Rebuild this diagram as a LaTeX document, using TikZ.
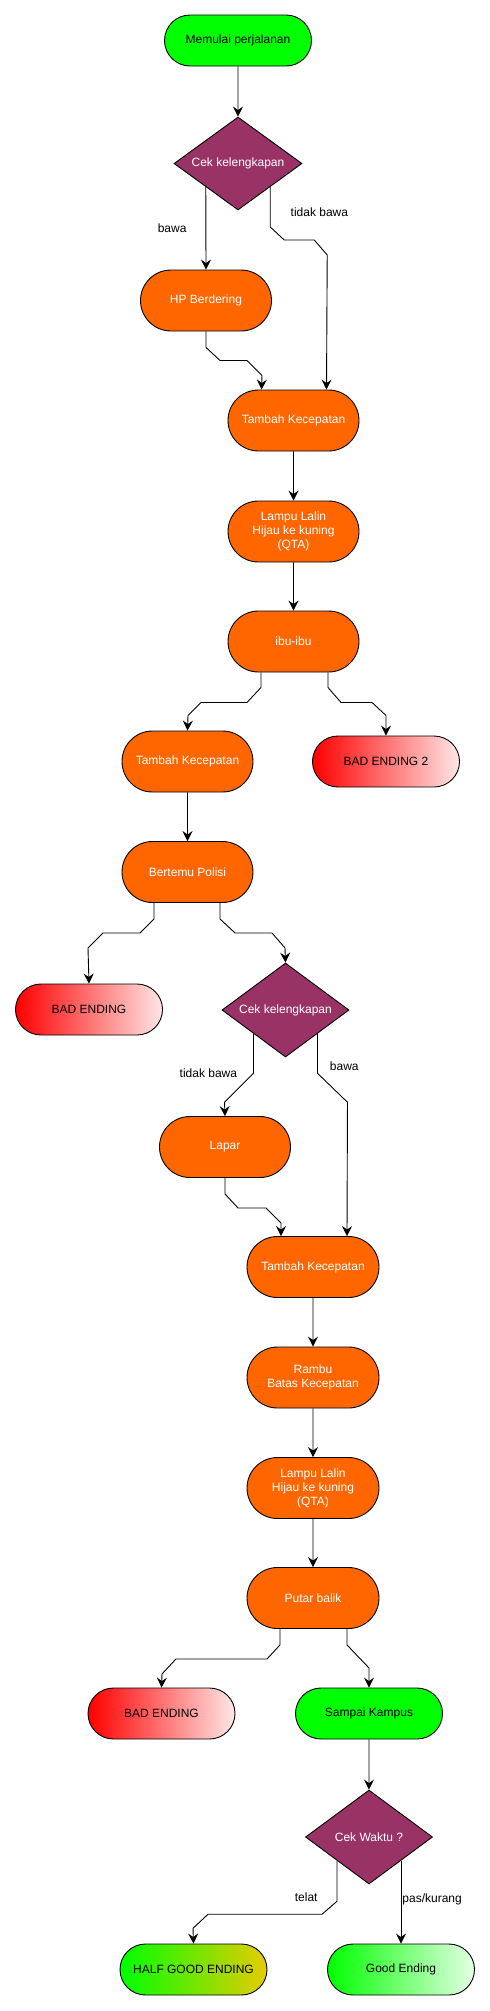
\documentclass[tikz,border=0pt]{standalone}
\usepackage{fontspec}
\setmainfont{Liberation Sans}
\usepackage{tikz}
\usetikzlibrary{shapes.geometric,shapes.misc,arrows.meta}
\definecolor{procorange}{HTML}{FF6600}
\definecolor{decpurple}{HTML}{993366}
\definecolor{startgreen}{HTML}{00FF00}
\definecolor{badpink}{HTML}{FFE6E6}
\definecolor{goodpale}{HTML}{E6FFE6}
\definecolor{halfgold}{HTML}{E6CC00}
\tikzset{
  fnode/.style = {align=center, inner sep=0pt, text centered, font=\fontsize{12}{14}\selectfont, draw=black, line width=0.9pt},
  tterm/.style = {fnode, rounded rectangle, minimum width=147pt, minimum height=51pt},
  tstart/.style = {tterm, fill=startgreen},
  tproc/.style = {fnode, rounded rectangle, fill=procorange, text=white, minimum width=131pt, minimum height=61pt},
  tdecide/.style = {fnode, diamond, aspect=1.4, fill=decpurple, text=white, minimum width=128pt, minimum height=93pt},
  tbad/.style = {tterm, left color=red, right color=badpink},
  thalf/.style = {tterm, left color=startgreen, right color=halfgold},
  tgood/.style = {tterm, left color=startgreen, right color=goodpale},
  tlabel/.style = {inner sep=0pt, font=\fontsize{12}{14}\selectfont},
  flow/.style = {line width=0.9pt, -{Stealth[length=10pt,width=10pt,inset=3.5pt]}},
}
\begin{document}
\begin{tikzpicture}[x=1pt, y=-1pt]
\useasboundingbox (0,0) rectangle (490,2011);
% first part
\node [tstart] (start) at (238,40.5) {Memulai perjalanan};
\node [tdecide] (cek1) at (238,163.5) {Cek kelengkapan};
\node [tproc] (hp) at (206,300.5) {HP Berdering};
\node [tproc] (tk1) at (293.5,420.5) {Tambah Kecepatan};
\node [tproc] (lampu1) at (293.5,531.5) {Lampu Lalin\\Hijau ke kuning\\(QTA)};
\node [tproc] (ibu) at (293.5,641.5) {ibu-ibu};
\node [tproc] (tk2) at (187.5,761.5) {Tambah Kecepatan};
\node [tbad] (bad2) at (386,761.5) {BAD ENDING 2};
\node [tproc] (polisi) at (187.5,872) {Bertemu Polisi};
\node [tbad] (bad1) at (89,1009.5) {BAD ENDING};
\node [tdecide, minimum width=127pt, minimum height=94pt] (cek2) at (285.5,1010) {Cek kelengkapan};
\node [tproc] (lapar) at (225,1147) {Lapar};
% second part
\node [tproc, minimum width=132pt] (tk3) at (313,1267) {Tambah Kecepatan};
\node [tproc, minimum width=132pt] (rambu) at (313,1377.5) {Rambu\\Batas Kecepatan};
\node [tproc, minimum width=132pt] (lampu2) at (313,1488) {Lampu Lalin\\Hijau ke kuning\\(QTA)};
\node [tproc, minimum width=132pt] (putar) at (313,1598) {Putar balik};
\node [tbad] (bad3) at (161.5,1713.5) {BAD ENDING};
\node [tstart] (sampai) at (369,1713.5) {Sampai Kampus};
\node [tdecide, minimum width=127pt, minimum height=94pt] (cek3) at (369,1837) {Cek Waktu ?};
\node [thalf] (half) at (193.5,1969.5) {HALF GOOD ENDING};
\node [tgood] (good) at (401,1969.5) {Good Ending};

\draw[flow] (start) -- (cek1);
\draw[flow] (cek1.south west) -- node [tlabel, left=19pt] {bawa} (hp.north);
\draw[flow] (cek1.south east) -- ++(0,40) node [tlabel, right=20pt, pos=.63] {tidak bawa}
  -- ++(14,13) -- ++(30,0) -- ++(13,15) -- ([xshift=33pt]tk1.north);
\draw[flow] (hp.south) -- ++(0,16) -- ++(14,13) -- ++(27,0) -- ++(15,15) -- ([xshift=-32pt]tk1.north);
\draw[flow] (tk1) -- (lampu1);
\draw[flow] (lampu1) -- (ibu);
\draw[flow] ([xshift=-32.5pt]ibu.south) -- ++(0,15) -- ++(-14,15) -- ++(-46,0) -- ++(-13,13) -- (tk2.north);
\draw[flow] ([xshift=34.5pt]ibu.south) -- ++(0,15) -- ++(13,15) -- ++(31,0) -- ++(14,13) -- (bad2.north);
\draw[flow] (tk2) -- (polisi);
\draw[flow] ([xshift=-33.5pt]polisi.south) -- ++(0,16) -- ++(-14,14) -- ++(-37,0) -- ++(-15,15) -- (bad1.north);
\draw[flow] ([xshift=32.5pt]polisi.south) -- ++(0,16) -- ++(15,14) -- ++(37,0) -- ++(13,15) -- (cek2.north);
\draw[flow] (cek2.south west) -- ++(0,39.5) node [tlabel, left=16pt] {tidak bawa}
  -- ++(-29,29) -- (lapar.north);
\draw[flow] (cek2.south east) -- ++(0,39.5) node [tlabel, right=12pt, pos=.82] {bawa}
  -- ++(30,29) -- ([xshift=34pt]tk3.north);
\draw[flow] (lapar.south) -- ++(0,16) -- ++(13,14) -- ++(28,0) -- ++(15,15) -- ([xshift=-32pt]tk3.north);
\draw[flow] (tk3) -- (rambu);
\draw[flow] (rambu) -- (lampu2);
\draw[flow] (lampu2) -- (putar);
\draw[flow] ([xshift=-33pt]putar.south) -- ++(0,16) -- ++(-13,14) -- ++(-91,0) -- ++(-14,15) -- (bad3.north);
\draw[flow] ([xshift=34pt]putar.south) -- ++(0,16) -- ++(22,23) -- (sampai.north);
\draw[flow] (sampai) -- (cek3);
\draw[flow] (cek3.south west) -- ++(0,40.5) node [tlabel, left=19pt, pos=.9] {telat}
  -- ++(-15,13) -- ++(-114,0) -- ++(-15,14) -- (half.north);
\draw[flow] (cek3.south east) -- node [tlabel, right=1pt, pos=.47] {pas/kurang} (cek3.south east |- good.north);
\end{tikzpicture}
\end{document}
